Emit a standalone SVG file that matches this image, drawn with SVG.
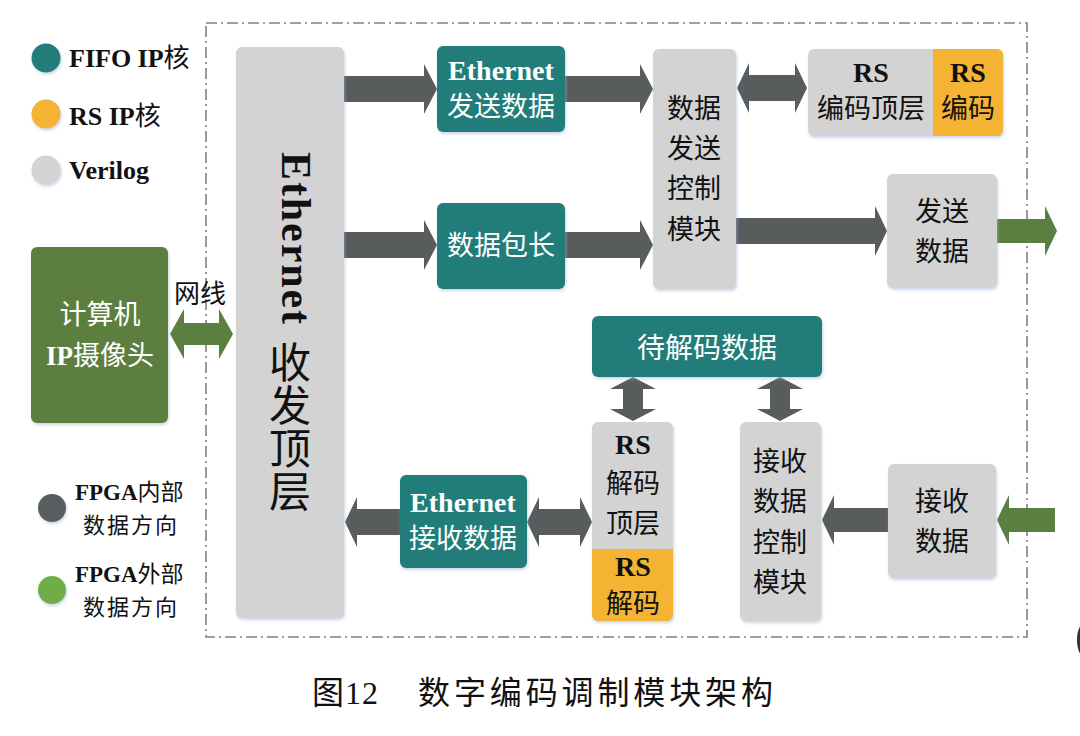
<svg xmlns="http://www.w3.org/2000/svg" width="1080" height="736" viewBox="0 0 1080 736">
<defs>
<filter id="sh" x="-10%" y="-10%" width="125%" height="125%">
<feDropShadow dx="1" dy="2" stdDeviation="1.5" flood-color="#9fb6d6" flood-opacity="0.55"/>
</filter>
<style>
.gray{fill:#d3d3d3;filter:url(#sh)}
.teal{fill:#237d7a;filter:url(#sh)}
.orange{fill:#f4b333}
.green{fill:#5b7f3f;filter:url(#sh)}
.dk{fill:#585c5d}
.gr{fill:#5b7f3f}
.cjk{font-family:"Noto Sans CJK SC","Liberation Serif",sans-serif}
.lat{font-family:"Liberation Serif","Noto Sans CJK SC",serif;font-weight:bold}
.w{fill:#ffffff}
.b{fill:#111111}
.mid{text-anchor:middle}
</style>
</defs>
<rect width="1080" height="736" fill="#ffffff"/>

<!-- frame -->
<rect x="206" y="23" width="821" height="614" fill="none" stroke="#808080" stroke-width="1.6" stroke-dasharray="11,4,2,4"/>

<!-- legend -->
<g id="legend">
<circle cx="46" cy="58" r="14.5" fill="#237d7a" filter="url(#sh)"/>
<circle cx="46" cy="114" r="14.5" fill="#f4b333" filter="url(#sh)"/>
<circle cx="46" cy="170" r="14.5" fill="#d3d3d3" filter="url(#sh)"/>
<text x="69" y="67" font-size="26" class="b"><tspan class="lat">FIFO IP</tspan><tspan class="cjk">核</tspan></text>
<text x="69" y="125" font-size="26" class="b"><tspan class="lat">RS IP</tspan><tspan class="cjk">核</tspan></text>
<text x="69" y="179" font-size="26" class="b lat">Verilog</text>
<circle cx="52" cy="508" r="14" fill="#595d5e" filter="url(#sh)"/>
<circle cx="52" cy="590" r="14" fill="#70ad47" filter="url(#sh)"/>
<text x="75" y="500" font-size="23" class="b"><tspan class="lat">FPGA</tspan><tspan class="cjk">内部</tspan></text>
<text x="130" y="533" font-size="22" class="b cjk mid" textLength="94" lengthAdjust="spacing">数据方向</text>
<text x="75" y="582" font-size="23" class="b"><tspan class="lat">FPGA</tspan><tspan class="cjk">外部</tspan></text>
<text x="130" y="615" font-size="22" class="b cjk mid" textLength="94" lengthAdjust="spacing">数据方向</text>
</g>

<!-- connectors -->
<g id="connectors">
<polygon class="dk" points="344,76 424,76 424,64 437,89 424,114 424,102 344,102"/>
<polygon class="dk" points="565,76 640,76 640,64 653,89 640,114 640,102 565,102"/>
<polygon class="dk" points="344,232 424,232 424,220 437,245 424,270 424,258 344,258"/>
<polygon class="dk" points="565,232 640,232 640,220 653,245 640,270 640,258 565,258"/>
<polygon class="dk" points="737,88 749,63 749,75 795,75 795,63 807,88 795,113 795,101 749,101 749,113"/>
<polygon class="dk" points="736,218 875,218 875,206 887,231 875,256 875,244 736,244"/>
<polygon class="gr" points="997,219 1045,219 1045,206 1057,231 1045,256 1045,243 997,243"/>
<polygon class="dk" points="633,377 656,389 643,389 643,409 656,409 633,421 610,409 623,409 623,389 610,389"/>
<polygon class="dk" points="780,377 803,389 790,389 790,409 803,409 780,421 757,409 770,409 770,389 757,389"/>
<polygon class="gr" points="1055,508 1009,508 1009,495 997,520 1009,545 1009,532 1055,532"/>
<polygon class="dk" points="888,508 834,508 834,495 822,520 834,545 834,532 888,532"/>
<polygon class="dk" points="400,509 357,509 357,497 345,522 357,547 357,535 400,535"/>
<polygon class="dk" points="527,522 539,497 539,509 580,509 580,497 592,522 580,547 580,535 539,535 539,547"/>
<polygon class="gr" points="170,334 184,309 184,323 219,323 219,309 233,334 219,359 219,345 184,345 184,359"/>
<text x="200" y="303" font-size="26" class="b cjk mid">网线</text>
</g>

<!-- nodes -->
<g id="computer">
<rect x="31" y="247" width="137" height="176" rx="6" class="green"/>
<text x="100" y="324" font-size="27" class="w cjk mid">计算机</text>
<text x="100" y="365" font-size="27" class="w mid"><tspan class="lat">IP</tspan><tspan class="cjk">摄像头</tspan></text>
</g>

<g id="eth-top">
<rect x="236" y="47" width="108" height="571" rx="6" class="gray"/>
<text transform="translate(282,238) rotate(90)" x="0" y="0" font-size="42" class="b lat mid" textLength="172" lengthAdjust="spacing">Ethernet</text>
<text x="290" y="341" writing-mode="tb" font-size="42" letter-spacing="1" class="b cjk">收发顶层</text>
</g>

<g id="eth-send">
<rect x="437" y="46" width="128" height="86" rx="6" class="teal"/>
<text x="501" y="80" font-size="28" class="w lat mid">Ethernet</text>
<text x="501" y="116" font-size="27" class="w cjk mid">发送数据</text>
</g>

<g id="pkt-len">
<rect x="437" y="203" width="128" height="86" rx="6" class="teal"/>
<text x="501" y="255" font-size="27" class="w cjk mid">数据包长</text>
</g>

<g id="send-ctrl">
<rect x="653" y="49" width="83" height="240" rx="6" class="gray"/>
<text x="694" y="118" font-size="27" class="b cjk mid">数据</text>
<text x="694" y="158" font-size="27" class="b cjk mid">发送</text>
<text x="694" y="198" font-size="27" class="b cjk mid">控制</text>
<text x="694" y="239" font-size="27" class="b cjk mid">模块</text>
</g>

<g id="rs-enc">
<rect x="808" y="49" width="195" height="87" rx="6" class="gray"/>
<path d="M933,49 H997 A6,6 0 0 1 1003,55 V130 A6,6 0 0 1 997,136 H933 Z" class="orange"/>
<text x="871" y="82" font-size="28" class="b lat mid">RS</text>
<text x="871" y="118" font-size="27" class="b cjk mid">编码顶层</text>
<text x="968" y="82" font-size="28" class="b lat mid">RS</text>
<text x="968" y="118" font-size="27" class="b cjk mid">编码</text>
</g>

<g id="send-data">
<rect x="887" y="174" width="110" height="114" rx="6" class="gray"/>
<text x="942" y="221" font-size="27" class="b cjk mid">发送</text>
<text x="942" y="261" font-size="27" class="b cjk mid">数据</text>
</g>

<g id="to-decode">
<rect x="592" y="316" width="230" height="61" rx="6" class="teal"/>
<text x="707" y="358" font-size="28" class="w cjk mid">待解码数据</text>
</g>

<g id="rs-dec">
<rect x="592" y="422" width="81" height="199" rx="6" class="gray"/>
<path d="M592,549 H673 V615 A6,6 0 0 1 667,621 H598 A6,6 0 0 1 592,615 Z" class="orange"/>
<text x="633" y="454" font-size="28" class="b lat mid">RS</text>
<text x="633" y="493" font-size="27" class="b cjk mid">解码</text>
<text x="633" y="533" font-size="27" class="b cjk mid">顶层</text>
<text x="633" y="576" font-size="28" class="b lat mid">RS</text>
<text x="633" y="613" font-size="27" class="b cjk mid">解码</text>
</g>

<g id="recv-ctrl">
<rect x="740" y="422" width="81" height="199" rx="6" class="gray"/>
<text x="780" y="471" font-size="27" class="b cjk mid">接收</text>
<text x="780" y="511" font-size="27" class="b cjk mid">数据</text>
<text x="780" y="552" font-size="27" class="b cjk mid">控制</text>
<text x="780" y="592" font-size="27" class="b cjk mid">模块</text>
</g>

<g id="recv-data">
<rect x="888" y="464" width="108" height="114" rx="6" class="gray"/>
<text x="942" y="511" font-size="27" class="b cjk mid">接收</text>
<text x="942" y="551" font-size="27" class="b cjk mid">数据</text>
</g>

<g id="eth-recv">
<rect x="400" y="475" width="127" height="93" rx="6" class="teal"/>
<text x="463" y="512" font-size="28" class="w lat mid">Ethernet</text>
<text x="463" y="548" font-size="27" class="w cjk mid">接收数据</text>
</g>

<ellipse cx="1088" cy="640" rx="11" ry="20" fill="#25363c"/>

<text x="312" y="704" font-size="32" class="b" textLength="66" lengthAdjust="spacing"><tspan class="cjk">图</tspan><tspan font-family="Liberation Serif, serif">12</tspan></text>
<text x="418" y="704" font-size="32" class="b cjk" textLength="355" lengthAdjust="spacing">数字编码调制模块架构</text>
</svg>
